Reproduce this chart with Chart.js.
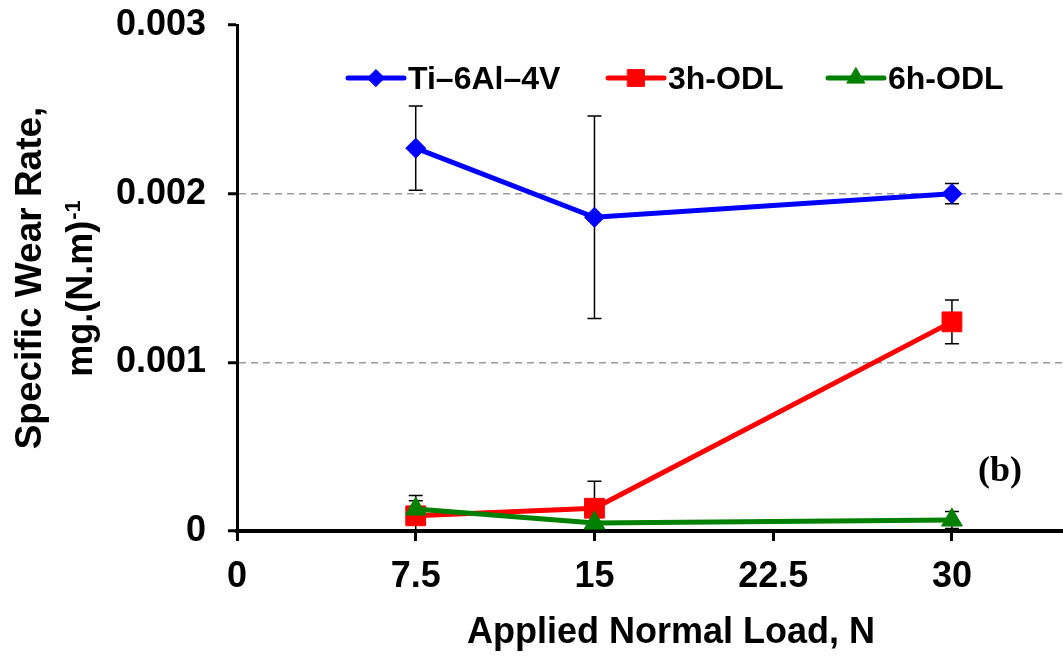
<!DOCTYPE html>
<html>
<head>
<meta charset="utf-8">
<script src="https://cdn.jsdelivr.net/npm/chart.js@4.4.0/dist/chart.umd.min.js"></script>
<style>
    html, body { margin: 0; padding: 0; background: #fff; }
    #wrap { width: 1063px; height: 657px; position: relative; }
</style>
</head>
<body>
<div id="wrap"><canvas id="chart"></canvas></div>
<script>
// values
const loads = [7.5, 15, 30];
const tiRate = [0.00227, 0.00186, 0.0020];
const tiErr = [0.00025, 0.0006, 0.00006];
const odl3Rate = [0.00009, 0.000135, 0.00124];
const odl3Err = [0.00009, 0.00016, 0.00013];
const odl6Rate = [0.00013, 0.000047, 0.000065];
const odl6Err = [0.00008, 0.00001, 0.00005];

const seriesNames = ["Ti\u20136Al\u20134V", "3h-ODL", "6h-ODL"];
const seriesColors = ["#0000ff", "#ff0000", "#008000"];
const xTicks = [0, 7.5, 15, 22.5, 30];
const yTicks = [0, 0.001, 0.002, 0.003];
const xTitle = "Applied Normal Load, N";
const yTitle1 = "Specific Wear Rate,";
const yTitle2 = "mg.(N.m)";
const yTitleSup = "-1";
const panelLabel = "(b)";

const SANS = '"Liberation Sans", Arial, sans-serif';
Chart.defaults.font.family = SANS;
Chart.defaults.color = "#000";

function toPoints(xs, ys) {
    return xs.map((x, i) => ({ x: x, y: ys[i] }));
}

const pointShapes = [
    { pointStyle: "rectRot", radius: 10 },
    { pointStyle: "rect", radius: 14 },
    { pointStyle: "triangle", radius: 12 }
];

// error bars drawn behind the lines
const errorBars = {
    id: "errorBars",
    beforeDatasetsDraw(chart) {
        const ctx = chart.ctx;
        const xs = chart.scales.x, ys = chart.scales.y;
        const sets = [[tiRate, tiErr], [odl3Rate, odl3Err], [odl6Rate, odl6Err]];
        ctx.save();
        ctx.strokeStyle = "#000";
        ctx.lineWidth = 1.5;
        sets.forEach(([vals, errs]) => {
            loads.forEach((load, i) => {
                const px = xs.getPixelForValue(load);
                const top = ys.getPixelForValue(vals[i] + errs[i]);
                const bot = ys.getPixelForValue(Math.max(vals[i] - errs[i], 0));
                ctx.beginPath();
                ctx.moveTo(px, top); ctx.lineTo(px, bot);
                ctx.moveTo(px - 7, top); ctx.lineTo(px + 7, top);
                ctx.moveTo(px - 7, bot); ctx.lineTo(px + 7, bot);
                ctx.stroke();
            });
        });
        ctx.restore();
    }
};

// legend inside the plot, axis titles, panel label
const overlay = {
    id: "overlay",
    afterDraw(chart) {
        const ctx = chart.ctx;
        ctx.save();
        ctx.fillStyle = "#000";

        // legend
        const starts = [348, 608, 828];
        ctx.font = "bold 32px " + SANS;
        ctx.textAlign = "left";
        ctx.textBaseline = "alphabetic";
        seriesNames.forEach((name, i) => {
            const x0 = starts[i], y0 = 78;
            ctx.strokeStyle = seriesColors[i];
            ctx.lineWidth = 5;
            ctx.lineCap = "round";
            ctx.beginPath();
            ctx.moveTo(x0, y0); ctx.lineTo(x0 + 56, y0);
            ctx.stroke();
            ctx.fillStyle = seriesColors[i];
            ctx.lineWidth = 1;
            Chart.helpers.drawPoint(ctx, {
                pointStyle: pointShapes[i].pointStyle,
                radius: pointShapes[i].radius * 0.85,
                rotation: 0,
                borderWidth: 1
            }, x0 + 28, y0);
            ctx.fillStyle = "#000";
            ctx.fillText(name, x0 + 60, 89);
        });

        // x title
        ctx.font = "bold 36px " + SANS;
        ctx.textAlign = "center";
        ctx.fillText(xTitle, 671, 643);

        // y title (two lines, rotated)
        ctx.save();
        ctx.translate(41, 278);
        ctx.rotate(-Math.PI / 2);
        ctx.font = "bold 37px " + SANS;
        ctx.textAlign = "center";
        ctx.fillText(yTitle1, 0, 0);
        ctx.restore();

        ctx.save();
        ctx.translate(92, 289);
        ctx.rotate(-Math.PI / 2);
        ctx.font = "bold 36px " + SANS;
        const w1 = ctx.measureText(yTitle2).width;
        ctx.font = "bold 22px " + SANS;
        const w2 = ctx.measureText(yTitleSup).width;
        const startX = -(w1 + w2) / 2;
        ctx.textAlign = "left";
        ctx.font = "bold 36px " + SANS;
        ctx.fillText(yTitle2, startX, 0);
        ctx.font = "bold 22px " + SANS;
        ctx.fillText(yTitleSup, startX + w1 + 1, -12);
        ctx.restore();

        // panel label
        ctx.font = 'bold 36px "Liberation Serif", "Times New Roman", serif';
        ctx.textAlign = "center";
        ctx.fillText(panelLabel, 1000, 481);

        ctx.restore();
    }
};

const rates = [tiRate, odl3Rate, odl6Rate];
const datasets = rates.map((vals, i) => ({
    label: seriesNames[i],
    data: toPoints(loads, vals),
    borderColor: seriesColors[i],
    backgroundColor: seriesColors[i],
    borderWidth: 5,
    pointStyle: pointShapes[i].pointStyle,
    pointRadius: pointShapes[i].radius,
    pointHoverRadius: pointShapes[i].radius,
    pointBorderWidth: 1,
    pointBackgroundColor: seriesColors[i],
    pointBorderColor: seriesColors[i],
    tension: 0,
    fill: false,
    clip: false,
    order: 3 - i
}));

new Chart(document.getElementById("chart"), {
    type: "line",
    data: { datasets: datasets },
    options: {
        responsive: true,
        maintainAspectRatio: false,
        animation: false,
        layout: { autoPadding: false, padding: { top: 25, right: 0, bottom: 0, left: 0 } },
        plugins: {
            legend: { display: false },
            tooltip: { enabled: false }
        },
        scales: {
            x: {
                type: "linear",
                min: 0,
                max: 34.66,
                border: { display: true, color: "#000", width: 4 },
                grid: {
                    drawOnChartArea: false,
                    drawTicks: true,
                    tickLength: 10,
                    tickWidth: 3,
                    tickColor: "#000"
                },
                afterBuildTicks: (scale) => {
                    scale.ticks = xTicks.map(v => ({ value: v }));
                },
                ticks: {
                    includeBounds: false,
                    autoSkip: false,
                    maxRotation: 0,
                    padding: 14,
                    color: "#000",
                    font: { size: 36, weight: "bold" },
                    callback: (v) => String(v)
                },
                afterFit: (scale) => {
                    scale.height = 126;
                    scale.paddingLeft = 0;
                    scale.paddingRight = 0;
                }
            },
            y: {
                min: 0,
                max: 0.003,
                border: {
                    display: true, color: "#000", width: 3,
                    dash: (c) => (c.tick ? [7, 5] : [])
                },
                grid: {
                    color: (c) => (c.tick && (Math.abs(c.tick.value - 0.001) < 1e-9 || Math.abs(c.tick.value - 0.002) < 1e-9)) ? "#999999" : "rgba(0,0,0,0)",
                    lineWidth: 1.5,
                    drawTicks: true,
                    tickLength: 9,
                    tickWidth: 3,
                    tickColor: "#000",
                    tickBorderDash: []
                },
                afterBuildTicks: (scale) => {
                    scale.ticks = yTicks.map(v => ({ value: v }));
                },
                ticks: {
                    padding: 22,
                    color: "#000",
                    font: { size: 36, weight: "bold" },
                    callback: (v) => (v === 0 ? "0" : v.toFixed(3))
                },
                afterFit: (scale) => {
                    scale.width = 237;
                    scale.paddingTop = 0;
                    scale.paddingBottom = 0;
                }
            }
        }
    },
    plugins: [errorBars, overlay]
});
</script>
</body>
</html>
